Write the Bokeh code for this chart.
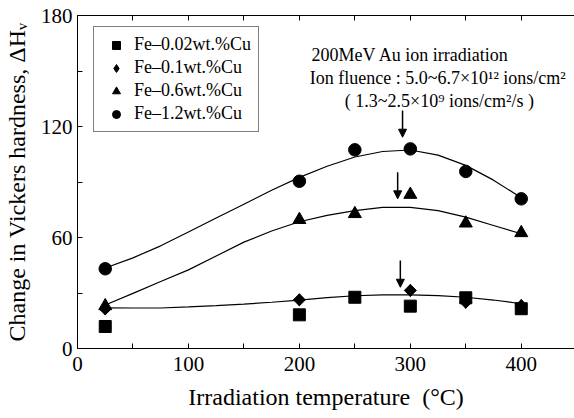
from bokeh.plotting import figure
from bokeh.models import (Range1d, LinearAxis, FixedTicker, Legend, LegendItem,
                          Label, Arrow, NormalHead, ColumnDataSource, Title,
                          CustomJSTickFormatter)
from bokeh.embed import file_html
from bokeh.resources import INLINE
import math

# ---- data ----
temps = [25, 200, 250, 300, 350, 400]
cu002 = [11.9, 18.2, 27.7, 22.9, 27.4, 21.5]
temps_01 = [25, 200, 300, 350, 400]
cu01 = [21.4, 26.3, 31.4, 25.0, 23.2]
cu06 = [23.0, 69.6, 72.8, 83.2, 67.7, 62.5]
cu12 = [43.1, 90.4, 107.4, 107.9, 95.7, 80.9]

curve_x = [25, 50, 75, 100, 125, 150, 175, 200, 225, 250, 275, 300, 325, 350, 375, 400]
curve_low = [22.0, 21.9, 21.9, 22.5, 23.2, 24.0, 25.0, 26.2, 27.5, 28.5, 29.0, 29.0, 28.6, 27.7, 26.2, 24.2]
curve_mid = [23.5, 29.8, 36.2, 42.5, 50.0, 57.5, 63.5, 68.5, 72.0, 74.5, 76.3, 76.3, 74.5, 71.0, 66.5, 62.0]
curve_high = [43.5, 49.0, 55.5, 63.0, 70.5, 78.0, 85.5, 92.5, 98.5, 103.5, 106.5, 107.3, 104.5, 99.0, 91.0, 81.5]

arrow_x = [293, 288.6, 291]
arrow_top = [128.6, 95.3, 47.6]
arrow_bottom = [114.2, 80.9, 33.1]

x_ticks = [0, 100, 200, 300, 400]
x_minor = [50, 150, 250, 350]
y_ticks = [0, 60, 120, 180]
y_minor = [30, 90, 150]

labels = ["Fe\u20130.02wt.%Cu", "Fe\u20130.1wt.%Cu", "Fe\u20130.6wt.%Cu", "Fe\u20131.2wt.%Cu"]
note_lines = ["200MeV Au ion irradiation",
              "Ion fluence : 5.0~6.7\u00d710\u00b9\u00b2 ions/cm\u00b2",
              "( 1.3~2.5\u00d710\u2079 ions/cm\u00b2/s )"]
x_title = "Irradiation temperature\u2002(\u00b0C)"
y_title = "Change in Vickers hardness, \u0394H\u1d65"

FONT = "Liberation Serif"

p = figure(width=574, height=418, x_range=Range1d(0, 448), y_range=Range1d(0, 180),
           output_backend="svg", toolbar_location=None,
           min_border_left=77, min_border_right=0, min_border_top=15, min_border_bottom=70,
           background_fill_color="white", border_fill_color="white")
p.outline_line_color = None
p.xgrid.visible = False
p.ygrid.visible = False

def style_axis(ax, ticks, minor):
    ax.ticker = FixedTicker(ticks=ticks, minor_ticks=minor)
    ax.axis_line_color = "black"
    ax.axis_line_width = 1
    ax.major_tick_in = 5
    ax.major_tick_out = 0
    ax.minor_tick_in = 5
    ax.minor_tick_out = 0
    ax.major_tick_line_color = "black"
    ax.minor_tick_line_color = "black"
    ax.major_label_text_font = FONT
    ax.major_label_text_font_size = "21px"
    ax.major_label_text_color = "black"
    ax.axis_label_text_font = FONT
    ax.axis_label_text_font_style = "normal"
    ax.axis_label_text_color = "black"
    ax.axis_label_text_font_size = "24px"

style_axis(p.xaxis[0], x_ticks, x_minor)
style_axis(p.yaxis[0], y_ticks, y_minor)
p.yaxis.axis_label = y_title
p.xaxis.major_label_standoff = 8
p.yaxis.major_label_standoff = 5
p.yaxis.axis_label_standoff = 8

top = LinearAxis()
style_axis(top, x_ticks, x_minor)
top.formatter = CustomJSTickFormatter(code="return '';")
top.major_label_text_font_size = "2px"
top.major_label_standoff = 0
p.add_layout(top, "above")

p.add_layout(Title(text=x_title, align="center", text_font=FONT, text_font_size="24px",
                   text_font_style="normal", text_color="black", standoff=16, offset=0),
             "below")

# curves
for cy in (curve_low, curve_mid, curve_high):
    p.line(curve_x, cy, line_color="black", line_width=1.2)

# proxy diamonds (hidden under the rotated squares) used for the legend symbol
r01_leg = p.scatter(temps_01, cu01, marker="diamond", size=12,
                    fill_color="black", line_color="black")
r01 = p.scatter(temps_01, cu01, marker="square", angle=math.pi / 4, size=8.5,
                fill_color="black", line_color="black")
r06 = p.scatter(temps, cu06, marker="triangle", size=13,
                fill_color="black", line_color="black")
r12 = p.scatter(temps, cu12, marker="circle", size=12.5,
                fill_color="black", line_color="black")
r002 = p.scatter(temps, cu002, marker="square", size=12,
                 fill_color="black", line_color="black")

src = ColumnDataSource(dict(x=arrow_x, y0=arrow_top, y1=arrow_bottom))
p.add_layout(Arrow(end=NormalHead(size=8, fill_color="black", line_color="black"),
                   x_start="x", y_start="y0", x_end="x", y_end="y1",
                   line_color="black", line_width=1.5, source=src))

legend = Legend(items=[LegendItem(label=labels[0], renderers=[r002]),
                       LegendItem(label=labels[1], renderers=[r01_leg]),
                       LegendItem(label=labels[2], renderers=[r06]),
                       LegendItem(label=labels[3], renderers=[r12])],
                location=(16, 216), border_line_color="black", border_line_width=1,
                label_text_font=FONT, label_text_font_size="18px", label_text_color="black",
                padding=7, spacing=2, label_height=20, glyph_height=20, glyph_width=30,
                label_standoff=3, margin=0, background_fill_color="white",
                background_fill_alpha=1)
p.add_layout(legend)

note_x = [211, 209.3, 241]
note_y = [158.4, 146.3, 134]
for t, nx, ny in zip(note_lines, note_x, note_y):
    p.add_layout(Label(x=nx, y=ny, text=t, text_font=FONT, text_font_size="18px",
                       text_color="black", text_baseline="alphabetic"))

open("out.html", "w").write(file_html(p, INLINE))
